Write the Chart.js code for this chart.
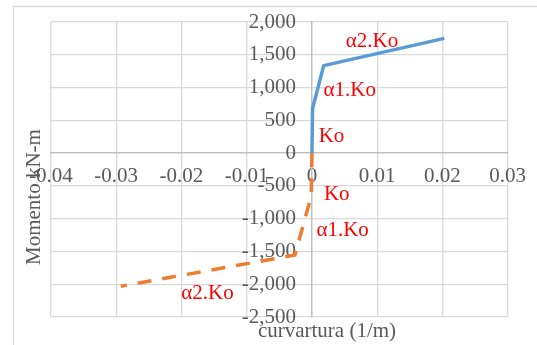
<!DOCTYPE html>
<html>
<head>
<meta charset="utf-8">
<script src="https://cdn.jsdelivr.net/npm/chart.js@4/dist/chart.umd.min.js"></script>
<style>
  html, body { margin: 0; padding: 0; background: #ffffff; }
  #grafico { display: block; }
</style>
</head>
<body>
<canvas id="grafico" width="537" height="345"></canvas>
<script>
// curvatura (1/m) y momento (kN-m) de cada rama
const curvPositiva = [0, 0.0001, 0.0018, 0.0203];
const momPositivo = [0, 680, 1335, 1750];
const curvNegativa = [0, -0.0001, -0.0026, -0.0293];
const momNegativo = [0, -650, -1555, -2030];

// textos de las pendientes
const etiquetas = ['Ko', 'α1.Ko', 'α2.Ko', 'Ko', 'α1.Ko', 'α2.Ko'];
// donde va cada texto (en unidades de los ejes)
const posEtiquetas = [
    [0.0030, 254], [0.0058, 959], [0.0092, 1701],
    [0.0038, -632], [0.0047, -1185], [-0.0160, -2147]
];

const ejeX = { min: -0.04, max: 0.03, paso: 0.01 };
const ejeY = { min: -2500, max: 2000, paso: 500 };

const fuente = 'Liberation Serif';
const grisTexto = '#595959';

function puntos(xs, ys) {
    return xs.map((x, i) => ({ x: x, y: ys[i] }));
}

const textos = {
    id: 'textos',
    beforeDraw(chart) {
        const ctx = chart.ctx;
        ctx.save();
        ctx.strokeStyle = '#d9d9d9';
        ctx.lineWidth = 1.3;
        ctx.strokeRect(13.5, 6.5, 600, 400);
        ctx.restore();

        // el eje Y cruzado en x=0 no separa sus etiquetas de la línea; se corren a mano
        const items = chart.scales.y.getLabelItems();
        if (!items.corridas) {
            items.forEach((it) => { it.options.translation[0] -= 16; });
            items.corridas = true;
        }
    },
    afterDatasetsDraw(chart) {
        const ctx = chart.ctx;
        const sx = chart.scales.x;
        const sy = chart.scales.y;
        ctx.save();
        ctx.font = '21px "' + fuente + '"';
        ctx.textAlign = 'center';
        ctx.textBaseline = 'middle';
        ctx.fillStyle = '#ff0000';
        etiquetas.forEach((t, i) => {
            const p = posEtiquetas[i];
            ctx.fillText(t, sx.getPixelForValue(p[0]), sy.getPixelForValue(p[1]));
        });

        // títulos de los ejes
        ctx.fillStyle = grisTexto;
        ctx.fillText('curvartura (1/m)', 327, 331);
        ctx.translate(34, 197);
        ctx.rotate(-Math.PI / 2);
        ctx.fillText('Momento kN-m', 0, 0);
        ctx.restore();
    }
};

const colorGrilla = (c) => c.tick && c.tick.value === 0 ? '#bfbfbf' : '#d9d9d9';

new Chart(document.getElementById('grafico'), {
    type: 'scatter',
    data: {
        datasets: [{
            label: 'positivo',
            data: puntos(curvPositiva, momPositivo),
            showLine: true,
            borderColor: '#5b9bd5',
            borderWidth: 3.5,
            pointRadius: 0,
            borderJoinStyle: 'round'
        }, {
            label: 'negativo',
            data: puntos(curvNegativa, momNegativo),
            showLine: true,
            borderColor: '#ed7d31',
            borderWidth: 3.5,
            borderDash: [14, 11],
            pointRadius: 0
        }]
    },
    options: {
        responsive: false,
        animation: false,
        layout: { padding: { left: 51, top: 22, right: 29, bottom: 28 } },
        plugins: {
            legend: { display: false },
            tooltip: { enabled: false }
        },
        scales: {
            x: {
                type: 'linear',
                position: { y: 0 },
                min: ejeX.min,
                max: ejeX.max,
                grid: { color: colorGrilla, lineWidth: 1.3, drawTicks: false },
                border: { color: '#bfbfbf', width: 1.3 },
                ticks: {
                    stepSize: ejeX.paso,
                    padding: 11,
                    color: grisTexto,
                    font: { family: fuente, size: 21 },
                    callback: (v) => {
                        const r = Math.round(v * 100) / 100;
                        return r === 0 ? '0' : r.toFixed(2);
                    }
                }
            },
            y: {
                type: 'linear',
                position: { x: 0 },
                min: ejeY.min,
                max: ejeY.max,
                grid: { color: colorGrilla, lineWidth: 1.3, drawTicks: false },
                border: { color: '#bfbfbf', width: 1.3 },
                ticks: {
                    stepSize: ejeY.paso,
                    color: grisTexto,
                    font: { family: fuente, size: 21 },
                    callback: (v) => v.toLocaleString('en-US')
                }
            }
        }
    },
    plugins: [textos]
});
</script>
</body>
</html>
